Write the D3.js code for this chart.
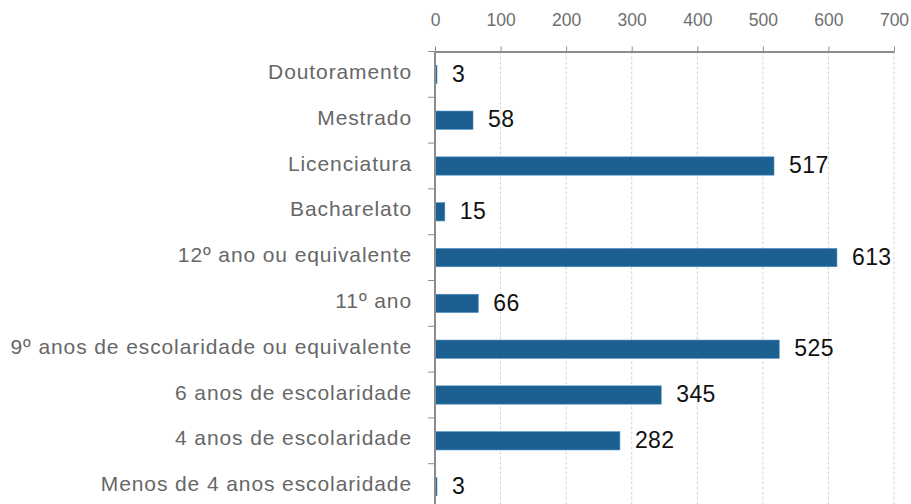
<!DOCTYPE html>
<html lang="pt">
<head>
    <meta charset="UTF-8">
    <title>Escolaridade</title>
    <style>
        body {
            margin: 0;
            padding: 0;
            background: #fff;
            overflow: hidden;
        }
        svg text {
            font-family: "Liberation Sans", Arial, sans-serif;
        }
        .grid line {
            stroke: #d4d4d4;
            stroke-dasharray: 3,2;
        }
        .axis path, .axis line {
            stroke: #8c8c8c;
        }
    </style>
</head>
<body>
    <script src="https://d3js.org/d3.v7.min.js"></script>
    <script>
        const categories = [
            "Doutoramento",
            "Mestrado",
            "Licenciatura",
            "Bacharelato",
            "12º ano ou equivalente",
            "11º ano",
            "9º anos de escolaridade ou equivalente",
            "6 anos de escolaridade",
            "4 anos de escolaridade",
            "Menos de 4 anos escolaridade"
        ];
        const values = [3, 58, 517, 15, 613, 66, 525, 345, 282, 3];
        const xTicks = [0, 100, 200, 300, 400, 500, 600, 700];

        const width = 911, height = 504;
        const margin = {top: 51.5, left: 435, right: 17};
        const innerW = width - margin.left - margin.right;
        const innerH = 458;

        const svg = d3.select("body").append("svg")
            .attr("width", width)
            .attr("height", height);

        const g = svg.append("g")
            .attr("transform", `translate(${margin.left},${margin.top})`);

        const x = d3.scaleLinear().domain([0, 700]).range([0, innerW]);
        const y = d3.scaleBand().domain(categories).range([0, innerH]).paddingInner(0.6).paddingOuter(0.3);
        const yStep = innerH / categories.length;

        // gridlines
        g.append("g")
            .attr("class", "grid")
            .selectAll("line")
            .data(xTicks.slice(1))
            .enter().append("line")
            .attr("x1", d => x(d))
            .attr("x2", d => x(d))
            .attr("y1", 0)
            .attr("y2", height);

        // bars
        g.append("g")
            .selectAll("rect")
            .data(values)
            .enter().append("rect")
            .attr("x", 0.5)
            .attr("y", (d, i) => y(categories[i]))
            .attr("width", d => Math.max(x(d) - 0.5, 1.5))
            .attr("height", y.bandwidth())
            .attr("fill", "#1c5f91")
            .attr("stroke", "#4f8fc4")
            .attr("stroke-width", 0.6);

        // value labels
        g.append("g")
            .selectAll("text")
            .data(values)
            .enter().append("text")
            .attr("x", d => x(d) + 15)
            .attr("y", (d, i) => y(categories[i]) + y.bandwidth() / 2 - 1)
            .attr("dy", "0.36em")
            .attr("font-size", 23)
            .attr("letter-spacing", 0.4)
            .attr("fill", "#111")
            .text(d => d);

        // top axis
        const xAxis = g.append("g")
            .attr("class", "axis")
            .call(d3.axisTop(x).tickValues(xTicks).tickSize(5).tickSizeOuter(0));
        xAxis.select(".domain").attr("stroke-width", 2);
        xAxis.selectAll("text")
            .attr("font-size", 17.5)
            .attr("fill", "#6e6e6e")
            .attr("dy", 0)
            .attr("y", -25.5);

        // left axis line with ticks between categories
        g.append("line")
            .attr("x1", 0).attr("x2", 0)
            .attr("y1", 0).attr("y2", height)
            .attr("stroke", "#8c8c8c")
            .attr("stroke-width", 2);

        g.append("g")
            .selectAll("line")
            .data(d3.range(categories.length + 1))
            .enter().append("line")
            .attr("x1", -7).attr("x2", 0)
            .attr("y1", i => i * yStep)
            .attr("y2", i => i * yStep)
            .attr("stroke", "#8c8c8c");

        // category labels
        g.append("g")
            .selectAll("text")
            .data(categories)
            .enter().append("text")
            .attr("x", -23)
            .attr("y", d => y(d) + y.bandwidth() / 2 - 3)
            .attr("dy", "0.36em")
            .attr("text-anchor", "end")
            .attr("font-size", 21)
            .attr("letter-spacing", 0.9)
            .attr("fill", "#676767")
            .text(d => d);
    </script>
</body>
</html>
